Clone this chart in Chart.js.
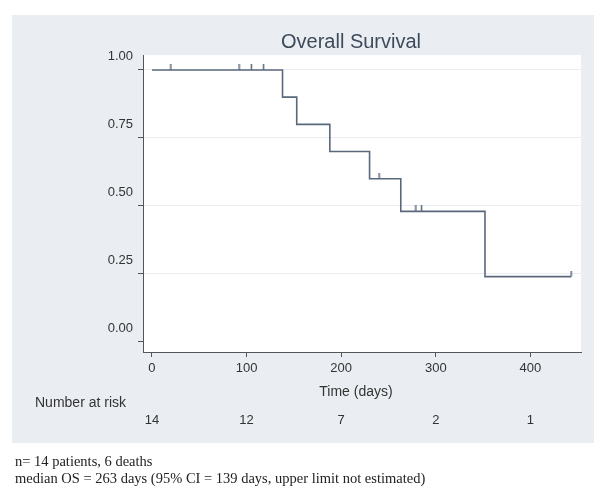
<!DOCTYPE html>
<html lang="en">
<head>
    <meta charset="UTF-8">
    <script src="https://cdn.jsdelivr.net/npm/chart.js@4.4.0/dist/chart.umd.min.js"></script>
    <title>Overall Survival</title>
    <style>
        body { margin: 0; background: #fff; }
    </style>
</head>
<body>
    <canvas id="myChart" width="600" height="493"></canvas>
</body>
<script>
// Kaplan-Meier steps (day of event, survival after it)
const timeDays = [0, 138, 153, 188, 230, 263, 352, 443];
const survival = [1, 0.9, 0.8, 0.7, 0.6, 0.48, 0.24, 0.24];
// censored patients
const censorDays = [20, 92, 105, 118, 240, 279, 285, 443];
const censorSurv = [1, 1, 1, 1, 0.6, 0.48, 0.48, 0.24];
// axes and risk table
const xTicks = [0, 100, 200, 300, 400];
const yTicks = [0, 0.25, 0.5, 0.75, 1];
const atRisk = [14, 12, 7, 2, 1];

const lineColor = '#5a687c';
const font = "'Liberation Sans', Arial, sans-serif";

// small upward tick used as censor mark
var mark = document.createElement('canvas');
mark.width = 3;
mark.height = 12;
var mctx = mark.getContext('2d');
mctx.strokeStyle = lineColor;
mctx.lineWidth = 1.5;
mctx.beginPath();
mctx.moveTo(1.5, 0);
mctx.lineTo(1.5, 6);
mctx.stroke();

var panel = {
    id: 'panel',
    beforeDraw(chart) {
        var c = chart.ctx, a = chart.chartArea;
        c.save();
        c.fillStyle = '#fff';
        c.fillRect(0, 0, chart.width, chart.height);
        c.fillStyle = '#eaeef2';
        c.fillRect(12, 15, 582, 428);
        c.fillStyle = '#fff';
        c.fillRect(a.left, a.top, a.right - a.left, a.bottom - a.top);
        c.restore();
    },
    afterDraw(chart) {
        var c = chart.ctx, x = chart.scales.x;
        c.save();
        c.textBaseline = 'middle';
        c.textAlign = 'center';
        c.fillStyle = '#3e4a5a';
        c.font = '20px ' + font;
        c.fillText('Overall Survival', 351, 42);
        c.fillStyle = '#333';
        c.font = '14px ' + font;
        c.fillText('Time (days)', 356, 392);
        c.textAlign = 'left';
        c.fillText('Number at risk', 35, 403);
        c.textAlign = 'center';
        c.font = '13px ' + font;
        xTicks.forEach(function (t, i) {
            c.fillText(String(atRisk[i]), x.getPixelForValue(t), 420);
        });
        c.textAlign = 'left';
        c.fillStyle = '#222';
        c.font = "14.5px 'Liberation Serif', 'Times New Roman', serif";
        c.fillText('n= 14 patients, 6 deaths', 15, 462);
        c.fillText('median OS = 263 days (95% CI = 139 days, upper limit not estimated)', 15, 479);
        c.restore();
    }
};

var ctx = document.getElementById('myChart').getContext('2d');
var chart = new Chart(ctx, {
    type: 'line',
    data: {
        datasets: [{
            label: 'Survival',
            data: timeDays.map((t, i) => ({ x: t, y: survival[i] })),
            borderColor: lineColor,
            borderWidth: 1.6,
            stepped: true,
            pointRadius: 0,
            fill: false
        }, {
            label: 'Censored',
            data: censorDays.map((t, i) => ({ x: t, y: censorSurv[i] })),
            showLine: false,
            pointStyle: mark,
            pointRadius: 6
        }]
    },
    options: {
        responsive: false,
        animation: false,
        layout: { padding: { left: 0, top: 55, right: 19, bottom: 0 } },
        plugins: {
            legend: { display: false },
            title: { display: false },
            tooltip: { enabled: false }
        },
        scales: {
            x: {
                type: 'linear',
                min: -9.5,
                max: 453.5,
                afterBuildTicks: s => { s.ticks = xTicks.map(v => ({ value: v })); },
                afterFit: s => { s.height = 141; },
                grid: { drawOnChartArea: false, tickLength: 5, tickColor: '#555' },
                border: { color: '#555', width: 1 },
                ticks: { color: '#333', font: { family: font, size: 13 }, padding: 4 }
            },
            y: {
                min: -0.037,
                max: 1.055,
                afterBuildTicks: s => { s.ticks = yTicks.map(v => ({ value: v })); },
                afterFit: s => { s.width = 143; },
                grid: {
                    color: c => c.tick && c.tick.value === 0 ? 'rgba(0,0,0,0)' : '#e9edf1',
                    tickLength: 5,
                    tickColor: '#555'
                },
                border: { color: '#555', width: 1 },
                ticks: {
                    color: '#333',
                    font: { family: font, size: 13 },
                    padding: 5,
                    labelOffset: -14,
                    callback: v => v.toFixed(2)
                }
            }
        }
    },
    plugins: [panel]
});
</script>
</html>
